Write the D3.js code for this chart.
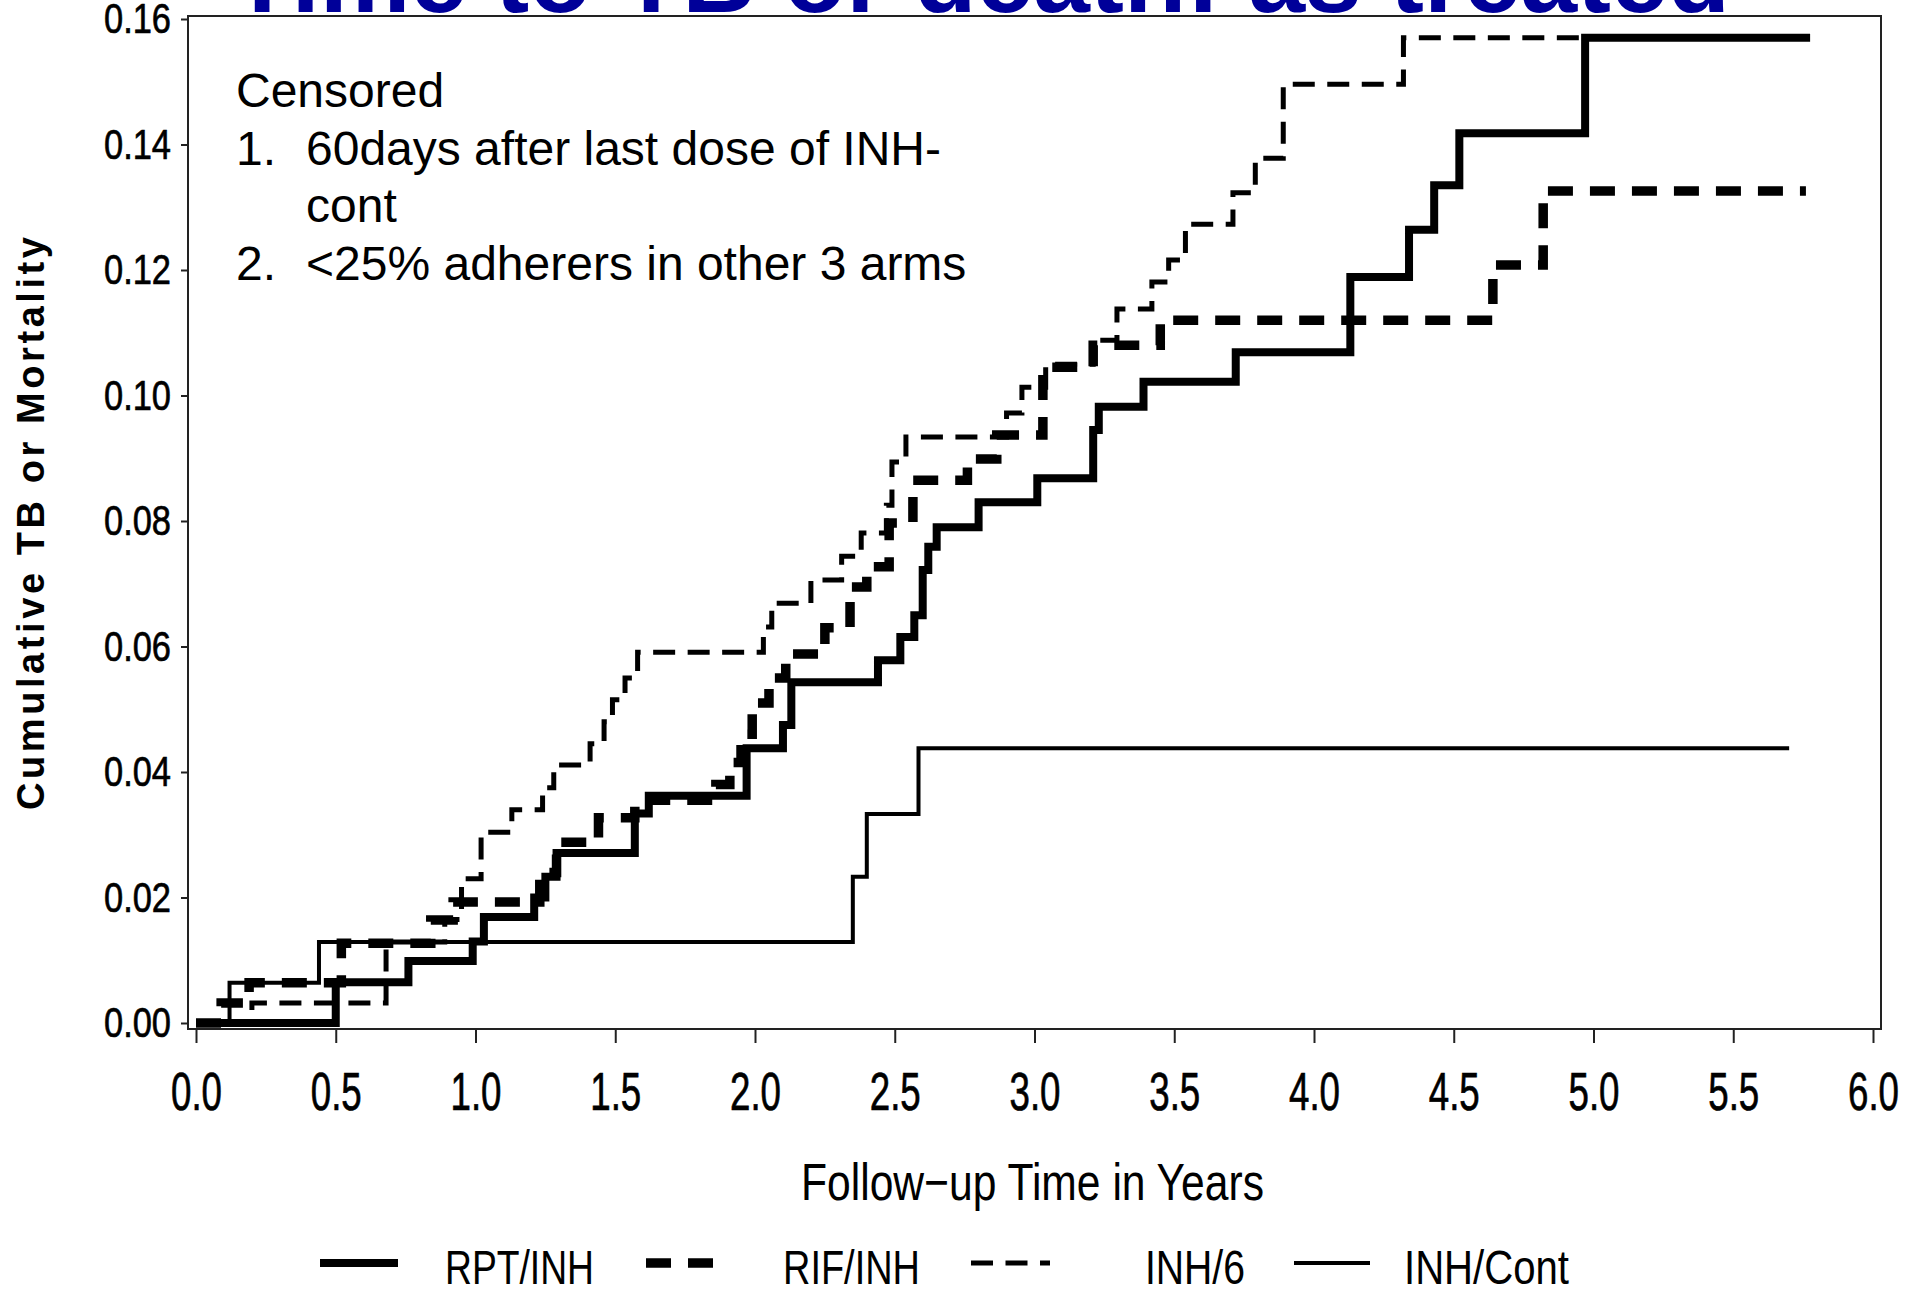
<!DOCTYPE html>
<html>
<head>
<meta charset="utf-8">
<script src="https://cdn.jsdelivr.net/npm/d3@7"></script>
<style>
  body { margin: 0; background: #fff; }
  svg { display: block; }
  text { font-family: "Liberation Sans", Arial, sans-serif; }
</style>
</head>
<body>
<svg id="chart" width="1910" height="1293"></svg>
<script>
// ---- data: [years, cumulative TB or death]
let rptInh = [[0, 0], [0.50, 0.0065], [0.76, 0.0099], [0.99, 0.013], [1.03, 0.0169], [1.21, 0.020],
    [1.25, 0.0233], [1.29, 0.0271], [1.57, 0.0334], [1.62, 0.0362], [1.97, 0.0438], [2.10, 0.0475],
    [2.13, 0.0543], [2.44, 0.0578], [2.52, 0.0615], [2.57, 0.065], [2.60, 0.0722], [2.62, 0.0759],
    [2.65, 0.079], [2.80, 0.083], [3.01, 0.0868], [3.21, 0.0945], [3.23, 0.0982], [3.39, 0.1022],
    [3.72, 0.1069], [4.13, 0.1189], [4.34, 0.1264], [4.43, 0.1335], [4.52, 0.1418], [4.97, 0.157]];
let rifInh = [[0, 0], [0.09, 0.0032], [0.19, 0.0064], [0.52, 0.0127], [0.84, 0.0164], [0.92, 0.0193],
    [1.23, 0.024], [1.29, 0.0288], [1.44, 0.0327], [1.57, 0.0355], [1.86, 0.038], [1.91, 0.0415],
    [1.95, 0.046], [1.99, 0.051], [2.05, 0.055], [2.11, 0.0588], [2.25, 0.063], [2.34, 0.0695],
    [2.40, 0.0727], [2.48, 0.0797], [2.565, 0.0865], [2.76, 0.0899], [2.865, 0.0937], [3.03, 0.1045],
    [3.21, 0.108], [3.45, 0.112], [4.64, 0.1208], [4.82, 0.1326]];
let inh6 = [[0, 0], [0.20, 0.0032], [0.68, 0.0129], [0.89, 0.0165], [0.95, 0.023], [1.02, 0.0304],
    [1.13, 0.034], [1.24, 0.0375], [1.28, 0.0411], [1.41, 0.0445], [1.46, 0.048], [1.49, 0.0515],
    [1.535, 0.055], [1.58, 0.0591], [2.03, 0.0631], [2.06, 0.0669], [2.20, 0.0706], [2.31, 0.0744],
    [2.38, 0.0781], [2.47, 0.0825], [2.49, 0.0894], [2.54, 0.0934], [2.90, 0.0972], [2.955, 0.1013],
    [3.04, 0.105], [3.21, 0.1088], [3.295, 0.1138], [3.42, 0.1181], [3.48, 0.1216], [3.54, 0.1273],
    [3.71, 0.1323], [3.79, 0.1378], [3.89, 0.1496], [4.32, 0.157]];
let inhCont = [[0, 0], [0.12, 0.0064], [0.44, 0.0129], [2.35, 0.0233], [2.40, 0.0333], [2.585, 0.0438]];

// last follow-up time of each arm
let lastTime = { rpt: 5.775, rif: 5.76, inh6: 4.97, cont: 5.70 };

let xTicks = [0, 0.5, 1, 1.5, 2, 2.5, 3, 3.5, 4, 4.5, 5, 5.5, 6];
let yTicks = [0, 0.02, 0.04, 0.06, 0.08, 0.10, 0.12, 0.14, 0.16];

let legendNames = ["RPT/INH", "RIF/INH", "INH/6", "INH/Cont"];

let svg = d3.select("#chart");

let x = d3.scaleLinear().domain([0, 6]).range([196, 1873]);
let y = d3.scaleLinear().domain([0, 0.16]).range([1023, 19]);

// title, mostly cut off by the top of the slide
svg.append("text")
    .attr("x", 231)
    .attr("y", 12)
    .attr("font-size", 102)
    .attr("font-weight", "bold")
    .attr("fill", "#000099")
    .attr("textLength", 1499)
    .attr("lengthAdjust", "spacingAndGlyphs")
    .text("Time to TB or death: as treated");

// plot frame
svg.append("rect")
    .attr("x", 188)
    .attr("y", 16)
    .attr("width", 1881 - 188)
    .attr("height", 1029 - 16)
    .attr("fill", "none")
    .attr("stroke", "#222")
    .attr("stroke-width", 2);

// y axis
let yAxis = svg.append("g")
    .attr("transform", "translate(188,0)")
    .call(d3.axisLeft(y).tickValues(yTicks).tickFormat(d3.format(".2f")).tickSize(7).tickPadding(10));
yAxis.select(".domain").remove();
yAxis.selectAll("line").attr("stroke", "#222").attr("stroke-width", 2);
yAxis.selectAll("text")
    .attr("font-size", 43)
    .attr("fill", "#000")
    .attr("stroke", "#000")
    .attr("stroke-width", 0.7)
    .attr("textLength", 67)
    .attr("lengthAdjust", "spacingAndGlyphs")
    .style("font-family", "'Liberation Sans', Arial, sans-serif");

// x axis
let xAxis = svg.append("g")
    .attr("transform", "translate(0,1029)")
    .call(d3.axisBottom(x).tickValues(xTicks).tickFormat(d3.format(".1f")).tickSize(14).tickPadding(29));
xAxis.select(".domain").remove();
xAxis.selectAll("line").attr("stroke", "#222").attr("stroke-width", 2);
xAxis.selectAll("text")
    .attr("font-size", 54)
    .attr("fill", "#000")
    .attr("stroke", "#000")
    .attr("stroke-width", 0.7)
    .attr("textLength", 51)
    .attr("lengthAdjust", "spacingAndGlyphs")
    .style("font-family", "'Liberation Sans', Arial, sans-serif");

// axis titles
svg.append("text")
    .attr("x", 801)
    .attr("y", 1200)
    .attr("font-size", 52)
    .attr("textLength", 463)
    .attr("lengthAdjust", "spacingAndGlyphs")
    .text("Follow\u2212up Time in Years");

svg.append("text")
    .attr("transform", "translate(44,810) rotate(-90)")
    .attr("font-size", 38)
    .attr("font-weight", "bold")
    .attr("textLength", 573)
    .text("Cumulative TB or Mortality");

// censoring note
let note = svg.append("g").attr("font-size", 48).attr("fill", "#000");
note.append("text").attr("x", 236).attr("y", 107).text("Censored");
note.append("text").attr("x", 236).attr("y", 165).text("1.");
note.append("text").attr("x", 306).attr("y", 165).text("60days after last dose of INH-");
note.append("text").attr("x", 306).attr("y", 222).text("cont");
note.append("text").attr("x", 236).attr("y", 280).text("2.");
note.append("text").attr("x", 306).attr("y", 280).text("<25% adherers in other 3 arms");

// step curves
let step = d3.line()
    .x(d => x(d[0]))
    .y(d => y(d[1]))
    .curve(d3.curveStepAfter);

function withEnd(data, tEnd) {
    return data.concat([[tEnd, data[data.length - 1][1]]]);
}

let series = [
    { data: withEnd(inhCont, lastTime.cont), width: 4, dash: null },
    { data: withEnd(inh6, lastTime.inh6), width: 5, dash: "22,12.5" },
    { data: withEnd(rifInh, lastTime.rif), width: 9.5, dash: "25,17" },
    { data: withEnd(rptInh, lastTime.rpt), width: 8, dash: null }
];

svg.selectAll(".km")
    .data(series)
    .enter().append("path")
    .attr("class", "km")
    .attr("d", d => step(d.data))
    .attr("fill", "none")
    .attr("stroke", "#000")
    .attr("stroke-width", d => d.width)
    .attr("stroke-dasharray", d => d.dash);

// legend
let legend = [
    { name: legendNames[0], x0: 320, x1: 398, tx: 445, tw: 149, width: 8, dash: null },
    { name: legendNames[1], x0: 646, x1: 713, tx: 783, tw: 137, width: 9.5, dash: "25,17" },
    { name: legendNames[2], x0: 971, x1: 1050, tx: 1145, tw: 100, width: 5, dash: "22,12.5" },
    { name: legendNames[3], x0: 1294, x1: 1370, tx: 1404, tw: 165, width: 4, dash: null }
];

let lg = svg.selectAll(".legendItem")
    .data(legend)
    .enter().append("g")
    .attr("class", "legendItem");

lg.append("line")
    .attr("x1", d => d.x0)
    .attr("x2", d => d.x1)
    .attr("y1", 1263)
    .attr("y2", 1263)
    .attr("stroke", "#000")
    .attr("stroke-width", d => d.width)
    .attr("stroke-dasharray", d => d.dash);

lg.append("text")
    .attr("x", d => d.tx)
    .attr("y", 1284)
    .attr("font-size", 48)
    .attr("textLength", d => d.tw)
    .attr("lengthAdjust", "spacingAndGlyphs")
    .text(d => d.name);
</script>
</body>
</html>
